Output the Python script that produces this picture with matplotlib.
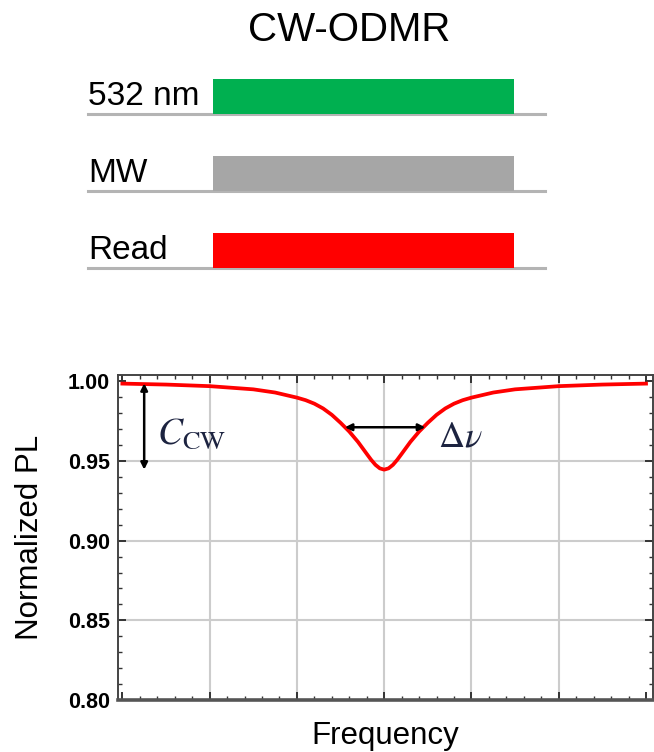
import matplotlib
matplotlib.use("Agg")
import matplotlib.pyplot as plt
from matplotlib.ticker import MultipleLocator

plt.rcParams['font.family'] = ['Liberation Sans', 'DejaVu Sans']
plt.rcParams['mathtext.fontset'] = 'stix'

# pulse sequence rows (top to bottom)
channels = ['532 nm', 'MW', 'Read']
pulse_colors = ['#00b050', '#a6a6a6', '#ff0000']
pulse_start = 0.274
pulse_stop = 0.932

# ODMR dip (detuning in linewidth-ish units, normalized PL)
freq = [-3.0, -2.5, -2.0, -1.5, -1.25, -1.0, -0.9, -0.8, -0.7, -0.6, -0.5, -0.4,
        -0.3, -0.2, -0.15, -0.1, -0.05, 0.0, 0.05, 0.1, 0.15, 0.2, 0.3, 0.4,
        0.5, 0.6, 0.7, 0.8, 0.9, 1.0, 1.25, 1.5, 2.0, 2.5, 3.0]
pl = [0.9986, 0.9980, 0.9970, 0.9950, 0.9930, 0.9898, 0.9882, 0.9860, 0.9830, 0.9790,
      0.9740, 0.9685, 0.9620, 0.9545, 0.9508, 0.9476, 0.9454, 0.9446, 0.9454, 0.9476,
      0.9508, 0.9545, 0.9620, 0.9685, 0.9740, 0.9790, 0.9830, 0.9860, 0.9882, 0.9898,
      0.9930, 0.9950, 0.9970, 0.9980, 0.9986]

contrast_x = -2.75
contrast_top = 0.9988
contrast_bottom = 0.9446
fwhm_left = -0.45
fwhm_right = 0.47
fwhm_level = 0.9712

W, H = 654, 752
fig = plt.figure(figsize=(W / 100, H / 100), dpi=100)

fig.text(349 / W, 1 - 30 / H, 'CW-ODMR', fontsize=29, ha='center', va='center')

# --- pulse sequence ---
row_h = 0.455
ax0 = fig.add_axes([88 / W, (H - 268) / H, 457 / W, 192.5 / H])
ax0.set_xlim(0, 1)
ax0.set_ylim(0, 2.5)
ax0.axis('off')
n = len(channels)
for i, (name, col) in enumerate(zip(channels, pulse_colors)):
    y0 = n - 1 - i
    ax0.plot([0, 1], [y0, y0], color='#b4b4b4', lw=2.2, clip_on=False, zorder=1)
    ax0.bar(pulse_start, row_h, width=pulse_stop - pulse_start, bottom=y0,
            align='edge', color=col, zorder=2)
    ax0.text(0.0, y0 + 0.02, name, fontsize=24, ha='left', va='bottom')

# --- ODMR spectrum ---
ax = fig.add_axes([118 / W, (H - 700) / H, 535 / W, 325 / H])
ax.plot(freq, pl, color='#ff0000', lw=2.7, zorder=3)
ax.set_xlim(-3.05, 3.08)
ax.set_ylim(0.80, 1.004)

for gx in [-2, -1, 0, 1, 2]:
    ax.axvline(gx, color='#cccccc', lw=1.5, zorder=0)
for gy in [0.85, 0.90, 0.95]:
    ax.axhline(gy, color='#cccccc', lw=1.5, zorder=0)

ax.xaxis.set_major_locator(MultipleLocator(1))
ax.xaxis.set_minor_locator(MultipleLocator(0.2))
ax.yaxis.set_major_locator(MultipleLocator(0.05))
ax.yaxis.set_minor_locator(MultipleLocator(0.01))
ax.tick_params(which='both', direction='in', top=True, right=True, color='#333333')
ax.tick_params(which='major', length=6, width=1.4)
ax.tick_params(which='minor', length=3, width=1.0)
ax.tick_params(axis='x', labelbottom=False)
ax.tick_params(axis='y', labelsize=15.5, pad=6)
ax.set_yticks([0.80, 0.85, 0.90, 0.95, 1.00])
ax.set_yticklabels(['0.80', '0.85', '0.90', '0.95', '1.00'], fontweight='bold')

for side in ['left', 'top', 'right']:
    ax.spines[side].set_color('#444444')
    ax.spines[side].set_linewidth(1.4)
ax.spines['bottom'].set_color('#555555')
ax.spines['bottom'].set_linewidth(2.6)

ax.set_xlabel('Frequency', fontsize=22.5, labelpad=12)
ax.set_ylabel('Normalized PL', fontsize=22.5, labelpad=16)

arrow = dict(arrowstyle='<|-|>', color='black', lw=1.8, mutation_scale=10,
             shrinkA=0, shrinkB=0)
ax.annotate('', xy=(contrast_x, contrast_bottom), xytext=(contrast_x, contrast_top),
            arrowprops=arrow)
ax.annotate('', xy=(fwhm_left, fwhm_level), xytext=(fwhm_right, fwhm_level),
            arrowprops=arrow)
ax.text(-2.6, 0.9672, r'$C_{\mathrm{CW}}$', fontsize=27, color='#1c2340',
        ha='left', va='center')
ax.text(0.62, 0.9648, r'$\Delta\nu$', fontsize=26, color='#1c2340',
        ha='left', va='center')

fig.savefig('out.png', dpi=100)
